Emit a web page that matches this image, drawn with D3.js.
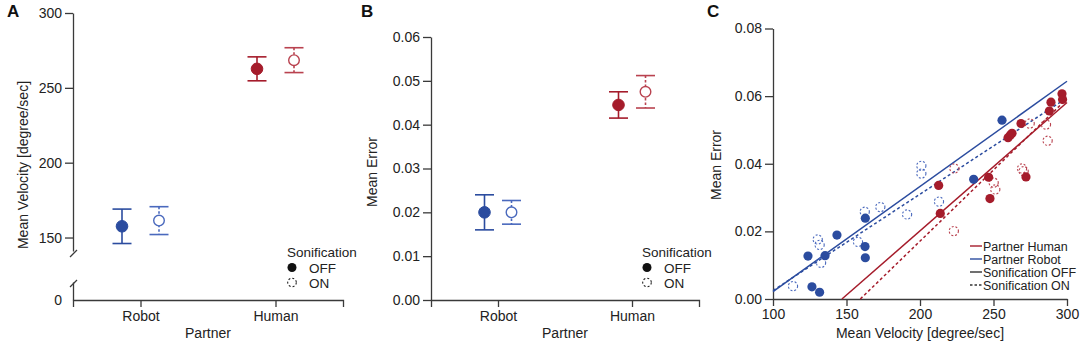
<!DOCTYPE html>
<html>
<head>
<meta charset="utf-8">
<script src="https://cdn.jsdelivr.net/npm/d3@7"></script>
<style>
  body { margin: 0; background: #fff; }
  svg { display: block; font-family: "Liberation Sans", Arial, sans-serif; }
  .domain, .tick line { stroke: #3a3a3a; stroke-width: 1.3; }
  .tick text { fill: #222; font-size: 14px; }
</style>
</head>
<body>
<div id="chart"></div>
<script>
// ---- data ----
const partners = ["Robot", "Human"];

// panel A: mean velocity (deg/sec), index follows partners
const velocityOff = [157.5, 262.7];
const velocityOffErr = [11.5, 8.0];
const velocityOn = [161.3, 268.5];
const velocityOnErr = [9.3, 8.3];

// panel B: mean error
const errorOff = [0.0200, 0.0445];
const errorOffErr = [0.0040, 0.0030];
const errorOn = [0.0200, 0.0475];
const errorOnErr = [0.0027, 0.0037];

// panel C: per-participant scatter
const robotOffX = [123.8, 126.5, 131.7, 135.4, 143.5, 162.8, 162.6, 162.8, 236.5, 255.8];
const robotOffY = [0.0127, 0.0036, 0.0020, 0.0128, 0.0189, 0.0239, 0.0155, 0.0122, 0.0354, 0.0529];
const robotOnX = [113.6, 130.4, 131.7, 132.7, 157.8, 162.4, 173.0, 191.2, 200.9, 200.9, 212.9];
const robotOnY = [0.0038, 0.0176, 0.0160, 0.0107, 0.0169, 0.0258, 0.0272, 0.0250, 0.0394, 0.0371, 0.0288];
const humanOffX = [212.7, 213.8, 246.7, 247.6, 259.9, 261.5, 262.6, 268.7, 272.1, 288.0, 289.1, 296.6, 297.0];
const humanOffY = [0.0336, 0.0253, 0.0360, 0.0297, 0.0477, 0.0485, 0.0490, 0.0519, 0.0361, 0.0556, 0.0582, 0.0607, 0.0590];
const humanOnX = [223.4, 223.0, 269.4, 270.5, 250.1, 251.2, 274.6, 285.7, 286.8];
const humanOnY = [0.0386, 0.0201, 0.0386, 0.0378, 0.0344, 0.0324, 0.0519, 0.0516, 0.0468];

// regression lines, endpoints in data units [velocity, error]
const fitRobotOff = [[100, 0.0022], [300, 0.0644]];
const fitRobotOn = [[100, 0.0025], [297.5, 0.0588]];
const fitHumanOff = [[146.9, 0.0], [300, 0.0581]];
const fitHumanOn = [[159.4, 0.0], [298, 0.0584]];

const velTicksUpper = [150, 200, 250, 300];
const errTicksB = [0, 0.01, 0.02, 0.03, 0.04, 0.05, 0.06];
const errTicksC = [0, 0.02, 0.04, 0.06, 0.08];
const velTicksC = [100, 150, 200, 250, 300];

// ---- colours ----
const col = {
  Robot: { off: "#2b4c9f", on: "#4a69bd" },
  Human: { off: "#a51c2b", on: "#b9424f" }
};

const W = 1084, H = 344;
const svg = d3.select("#chart").append("svg")
  .attr("width", W).attr("height", H)
  .attr("viewBox", `0 0 ${W} ${H}`);

function panelLabel(x, y, t) {
  svg.append("text").attr("x", x).attr("y", y)
    .style("font-size", "17px").style("font-weight", "bold").attr("fill", "#111")
    .text(t);
}

function yTitle(x, y, t) {
  svg.append("text")
    .attr("transform", `translate(${x},${y}) rotate(-90)`)
    .attr("text-anchor", "middle")
    .style("font-size", "14px").attr("fill", "#222")
    .text(t);
}

// draws mean +/- error with caps; on = dashed stem, open circle
function errorPoint(g, cx, yScale, mean, err, color, on, r) {
  g.append("line")
    .attr("x1", cx).attr("x2", cx)
    .attr("y1", yScale(mean + err)).attr("y2", yScale(mean - err))
    .attr("stroke", color).attr("stroke-width", 1.6)
    .attr("stroke-dasharray", on ? "2.5,2" : null);
  [mean + err, mean - err].forEach(v => {
    g.append("line")
      .attr("x1", cx - 9.5).attr("x2", cx + 9.5)
      .attr("y1", yScale(v)).attr("y2", yScale(v))
      .attr("stroke", color).attr("stroke-width", 1.6);
  });
  g.append("circle")
    .attr("cx", cx).attr("cy", yScale(mean)).attr("r", r)
    .attr("fill", on ? "#fff" : color)
    .attr("stroke", color).attr("stroke-width", on ? 1.4 : 1);
}

function sonLegend(x, y) {
  const g = svg.append("g").attr("transform", `translate(${x},${y})`);
  g.append("text").attr("x", 0).attr("y", 5).style("font-size", "13.5px").attr("fill", "#222").text("Sonification");
  g.append("circle").attr("cx", 5).attr("cy", 15.5).attr("r", 4.5).attr("fill", "#111");
  g.append("text").attr("x", 22).attr("y", 20.5).style("font-size", "13.5px").attr("fill", "#222").text("OFF");
  g.append("circle").attr("cx", 5).attr("cy", 30.5).attr("r", 4.3).attr("fill", "none")
    .attr("stroke", "#222").attr("stroke-width", 1.1).attr("stroke-dasharray", "2,2");
  g.append("text").attr("x", 22).attr("y", 35.5).style("font-size", "13.5px").attr("fill", "#222").text("ON");
}

function partnerAxis(x0, x1, yBase) {
  const x = d3.scalePoint().domain(partners).range([x0, x1]).padding(0.5);
  const ax = svg.append("g").attr("transform", `translate(0,${yBase})`)
    .call(d3.axisBottom(x).tickSizeOuter(0).tickSize(7).tickPadding(4));
  ax.selectAll(".tick text").style("font-size", "14px");
  svg.append("text").attr("x", (x0 + x1) / 2).attr("y", yBase + 38)
    .attr("text-anchor", "middle").style("font-size", "14px").attr("fill", "#222").text("Partner");
  return x;
}

// ================= Panel A =================
(function () {
  const left = 73, base = 300;
  panelLabel(7, 17, "A");
  const x = partnerAxis(left, 343, base);
  const yUp = d3.scaleLinear().domain([141, 300]).range([251, 13]);
  const yLow = d3.scaleLinear().domain([0, 10]).range([base, 282]);

  const ga = svg.append("g").attr("transform", `translate(${left},0)`);
  ga.call(d3.axisLeft(yUp).tickValues(velTicksUpper).tickSize(8).tickPadding(3).tickSizeOuter(0));
  const gl = svg.append("g").attr("transform", `translate(${left},0)`);
  gl.call(d3.axisLeft(yLow).tickValues([0]).tickSize(8).tickPadding(3).tickSizeOuter(0));
  gl.selectAll(".tick line").remove();
  // break marks
  svg.append("line").attr("x1", left - 3).attr("y1", yUp(141) + 6).attr("x2", left + 4).attr("y2", yUp(141) - 1)
    .attr("stroke", "#3a3a3a").attr("stroke-width", 1.3);
  svg.append("line").attr("x1", left - 3).attr("y1", yLow(10) + 5).attr("x2", left + 4).attr("y2", yLow(10) - 2)
    .attr("stroke", "#3a3a3a").attr("stroke-width", 1.3);

  yTitle(28, 165, "Mean Velocity [degree/sec]");

  const g = svg.append("g");
  partners.forEach((p, i) => {
    errorPoint(g, x(p) - 18.5, yUp, velocityOff[i], velocityOffErr[i], col[p].off, false, 5.8);
    errorPoint(g, x(p) + 18.5, yUp, velocityOn[i], velocityOnErr[i], col[p].on, true, 5.3);
  });
  sonLegend(287, 252);
})();

// ================= Panel B =================
(function () {
  const left = 431, base = 300;
  panelLabel(361, 17, "B");
  const x = partnerAxis(left, 699, base);
  const y = d3.scaleLinear().domain([0, 0.06]).range([base, 37]);
  svg.append("g").attr("transform", `translate(${left},0)`)
    .call(d3.axisLeft(y).tickValues(errTicksB).tickFormat(d3.format(".2f")).tickSize(8).tickPadding(3).tickSizeOuter(0));
  yTitle(377, 172, "Mean Error");

  const g = svg.append("g");
  partners.forEach((p, i) => {
    errorPoint(g, x(p) - 13.5, y, errorOff[i], errorOffErr[i], col[p].off, false, 5.8);
    errorPoint(g, x(p) + 13.5, y, errorOn[i], errorOnErr[i], col[p].on, true, 5.3);
  });
  sonLegend(642, 252);
})();

// ================= Panel C =================
(function () {
  const left = 773, right = 1067, base = 299;
  panelLabel(707, 17, "C");
  const x = d3.scaleLinear().domain([100, 300]).range([left, right]);
  const y = d3.scaleLinear().domain([0, 0.08]).range([base, 28.5]);

  svg.append("g").attr("transform", `translate(0,${base})`)
    .call(d3.axisBottom(x).tickValues(velTicksC).tickSize(7).tickPadding(3).tickSizeOuter(0));
  svg.append("g").attr("transform", `translate(${left},0)`)
    .call(d3.axisLeft(y).tickValues(errTicksC).tickFormat(d3.format(".2f")).tickSize(8).tickPadding(3).tickSizeOuter(0));
  svg.append("text").attr("x", (left + right) / 2).attr("y", 338)
    .attr("text-anchor", "middle").style("font-size", "14px").attr("fill", "#222").text("Mean Velocity [degree/sec]");
  yTitle(721, 165, "Mean Error");

  const line = d3.line().x(d => x(d[0])).y(d => y(d[1]));
  const fits = [
    { pts: fitHumanOn, c: col.Human.off, dash: "3,2.5" },
    { pts: fitHumanOff, c: col.Human.off, dash: null },
    { pts: fitRobotOn, c: col.Robot.off, dash: "3,2.5" },
    { pts: fitRobotOff, c: col.Robot.off, dash: null }
  ];
  svg.append("g").selectAll("path").data(fits).join("path")
    .attr("d", d => line(d.pts))
    .attr("fill", "none").attr("stroke", d => d.c).attr("stroke-width", 1.5)
    .attr("stroke-dasharray", d => d.dash);

  const scatter = svg.append("g");
  function openDots(xs, ys, c) {
    scatter.append("g").selectAll("circle").data(xs).join("circle")
      .attr("cx", d => x(d)).attr("cy", (d, i) => y(ys[i])).attr("r", 4.6)
      .attr("fill", "none").attr("stroke", c).attr("stroke-width", 1.1)
      .attr("stroke-dasharray", "2,1.8");
  }
  function filledDots(xs, ys, c) {
    scatter.append("g").selectAll("circle").data(xs).join("circle")
      .attr("cx", d => x(d)).attr("cy", (d, i) => y(ys[i])).attr("r", 4.6)
      .attr("fill", c);
  }
  openDots(robotOnX, robotOnY, col.Robot.on);
  openDots(humanOnX, humanOnY, col.Human.on);
  filledDots(robotOffX, robotOffY, col.Robot.off);
  filledDots(humanOffX, humanOffY, col.Human.off);

  // legend
  const legendRows = [
    { label: "Partner Human", c: col.Human.off, dash: null },
    { label: "Partner Robot", c: col.Robot.off, dash: null },
    { label: "Sonification OFF", c: "#333", dash: null },
    { label: "Sonification ON", c: "#333", dash: "2.5,2" }
  ];
  const lg = svg.append("g").attr("transform", "translate(970,246)");
  legendRows.forEach((r, i) => {
    lg.append("line").attr("x1", 0).attr("x2", 12).attr("y1", i * 13).attr("y2", i * 13)
      .attr("stroke", r.c).attr("stroke-width", 1.4).attr("stroke-dasharray", r.dash);
    lg.append("text").attr("x", 13).attr("y", i * 13 + 4.5)
      .style("font-size", "12.5px").attr("fill", "#222").text(r.label);
  });
})();
</script>
</body>
</html>
